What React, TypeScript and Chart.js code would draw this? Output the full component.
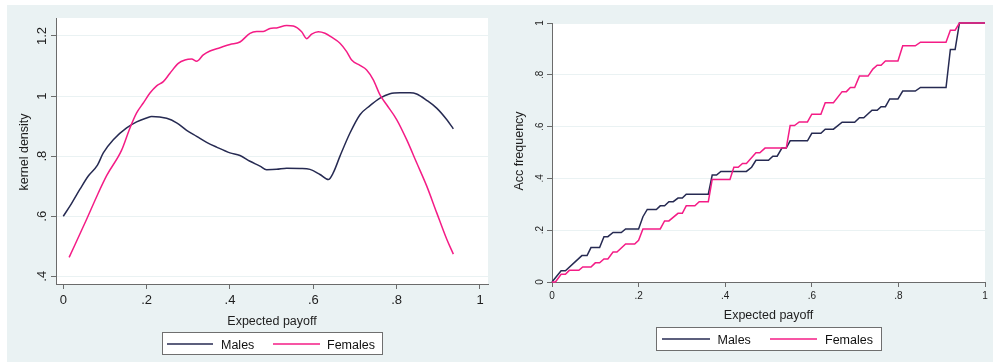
import React, { useEffect, useRef } from 'react';
import { Chart, registerables } from 'chart.js';

Chart.register(...registerables);

// ---------------- data ----------------
const seriesNames = ['Males', 'Females'];

// Left panel: kernel density of expected payoff
const densityMalesX = [0, 0.02, 0.04, 0.06, 0.082, 0.096, 0.12, 0.152, 0.176, 0.2, 0.212, 0.248, 0.272, 0.296, 0.32, 0.344, 0.368, 0.4, 0.424, 0.448, 0.472, 0.488, 0.512, 0.536, 0.568, 0.592, 0.616, 0.636, 0.648, 0.664, 0.688, 0.712, 0.736, 0.76, 0.784, 0.808, 0.832, 0.848, 0.872, 0.896, 0.92, 0.936];
const densityMalesY = [0.6, 0.643, 0.69, 0.734, 0.77, 0.811, 0.855, 0.894, 0.914, 0.927, 0.932, 0.926, 0.911, 0.886, 0.866, 0.846, 0.83, 0.811, 0.802, 0.783, 0.767, 0.755, 0.756, 0.76, 0.759, 0.756, 0.739, 0.722, 0.745, 0.8, 0.877, 0.938, 0.968, 0.993, 1.008, 1.011, 1.011, 1.007, 0.986, 0.96, 0.922, 0.891];

const densityFemalesX = [0.014, 0.056, 0.08, 0.104, 0.14, 0.16, 0.176, 0.192, 0.208, 0.224, 0.24, 0.256, 0.276, 0.292, 0.308, 0.32, 0.336, 0.352, 0.376, 0.4, 0.424, 0.448, 0.464, 0.48, 0.496, 0.512, 0.536, 0.552, 0.572, 0.584, 0.596, 0.612, 0.628, 0.644, 0.664, 0.68, 0.692, 0.712, 0.728, 0.744, 0.76, 0.776, 0.8, 0.824, 0.848, 0.872, 0.896, 0.92, 0.936];
const densityFemalesY = [0.463, 0.59, 0.665, 0.735, 0.82, 0.894, 0.944, 0.977, 1.01, 1.034, 1.048, 1.076, 1.109, 1.12, 1.123, 1.116, 1.137, 1.15, 1.161, 1.172, 1.18, 1.209, 1.215, 1.215, 1.225, 1.227, 1.235, 1.233, 1.214, 1.191, 1.206, 1.214, 1.209, 1.196, 1.176, 1.148, 1.12, 1.102, 1.087, 1.054, 1.004, 0.971, 0.922, 0.855, 0.778, 0.701, 0.612, 0.524, 0.474];

// Right panel: accumulated frequency
const cdfMalesX = [0, 0.021, 0.031, 0.069, 0.081, 0.09, 0.11, 0.12, 0.129, 0.141, 0.16, 0.17, 0.2, 0.21, 0.22, 0.241, 0.25, 0.26, 0.27, 0.28, 0.291, 0.301, 0.31, 0.361, 0.37, 0.38, 0.39, 0.449, 0.461, 0.471, 0.5, 0.51, 0.52, 0.531, 0.541, 0.55, 0.59, 0.6, 0.621, 0.631, 0.65, 0.67, 0.699, 0.71, 0.72, 0.739, 0.751, 0.76, 0.77, 0.78, 0.799, 0.81, 0.839, 0.851, 0.91, 0.92, 0.931, 0.941, 1.0];
const cdfMalesY = [0, 0.043, 0.043, 0.102, 0.102, 0.133, 0.133, 0.175, 0.175, 0.191, 0.191, 0.205, 0.205, 0.252, 0.28, 0.28, 0.294, 0.294, 0.31, 0.31, 0.324, 0.324, 0.339, 0.339, 0.413, 0.413, 0.427, 0.427, 0.443, 0.47, 0.47, 0.486, 0.486, 0.517, 0.517, 0.545, 0.545, 0.574, 0.574, 0.59, 0.59, 0.617, 0.617, 0.634, 0.634, 0.663, 0.663, 0.677, 0.677, 0.707, 0.707, 0.737, 0.737, 0.751, 0.751, 0.898, 0.898, 1.0, 1.0];

const cdfFemalesX = [0, 0.008, 0.021, 0.031, 0.04, 0.062, 0.071, 0.09, 0.1, 0.11, 0.12, 0.129, 0.141, 0.15, 0.17, 0.191, 0.2, 0.21, 0.25, 0.26, 0.27, 0.291, 0.301, 0.31, 0.33, 0.34, 0.361, 0.37, 0.411, 0.42, 0.43, 0.44, 0.449, 0.471, 0.48, 0.492, 0.541, 0.55, 0.56, 0.571, 0.59, 0.6, 0.621, 0.631, 0.65, 0.67, 0.68, 0.689, 0.699, 0.71, 0.73, 0.741, 0.751, 0.76, 0.77, 0.799, 0.81, 0.839, 0.851, 0.91, 0.92, 0.931, 0.941, 1.0];
const cdfFemalesY = [0, 0, 0.03, 0.03, 0.045, 0.045, 0.058, 0.058, 0.074, 0.074, 0.089, 0.089, 0.116, 0.116, 0.147, 0.147, 0.161, 0.205, 0.205, 0.236, 0.236, 0.265, 0.265, 0.294, 0.294, 0.31, 0.31, 0.396, 0.396, 0.443, 0.443, 0.458, 0.458, 0.499, 0.499, 0.517, 0.517, 0.604, 0.604, 0.618, 0.618, 0.648, 0.648, 0.692, 0.692, 0.735, 0.735, 0.751, 0.751, 0.795, 0.795, 0.822, 0.837, 0.837, 0.853, 0.853, 0.912, 0.912, 0.926, 0.926, 0.972, 0.972, 1.0, 1.0];

// ticks
const xTicks = [0, 0.2, 0.4, 0.6, 0.8, 1];
const xTickLabels = ['0', '.2', '.4', '.6', '.8', '1'];
const densityYTicks = [0.4, 0.6, 0.8, 1, 1.2];
const densityYTickLabels = ['.4', '.6', '.8', '1', '1.2'];
const cdfYTicks = [0, 0.2, 0.4, 0.6, 0.8, 1];
const cdfYTickLabels = ['0', '.2', '.4', '.6', '.8', '1'];

const xTitle = 'Expected payoff';
const densityYTitle = 'kernel density';
const cdfYTitle = 'Acc frequency';

// ---------------- styles ----------------
const FONT = '"Liberation Sans", Arial, Helvetica, sans-serif';
const MALE_COLOR = '#262a52';
const FEMALE_COLOR = '#f41c86';
const BG = '#eaf2f3';
const AXIS = '#6b6b6b';
const TEXT = '#1e1e1e';

const zip = (xs: number[], ys: number[]) => xs.map((x, i) => ({ x, y: ys[i] }));

type PanelCfg = {
  left: number;
  width: number;
  height: number;
  padding: { left: number; right: number; top: number; bottom: number };
  xMin: number; xMax: number; yMin: number; yMax: number;
  yTicks: number[]; yTickLabels: string[];
  tickFont: number;
  xLabelBaseline: number; // offset below axis
  yLabelBaseline: number; // offset left of axis
  yTitle: string;
  xTitleBaseline: number;
  yTitleBaselineX: number;
  yTitleCenterY: number;
  legend: { x: number; y: number; w: number; h: number; lineY: number; textY: number; items: { x1: number; x2: number; tx: number }[] };
  males: { x: number; y: number }[];
  females: { x: number; y: number }[];
  smooth: boolean;
};

function makeDecor(cfg: PanelCfg) {
  return {
    id: 'stataDecor',
    beforeDraw(chart: any) {
      const { ctx, chartArea: a } = chart;
      ctx.save();
      ctx.fillStyle = '#ffffff';
      ctx.fillRect(a.left, a.top, a.right - a.left, a.bottom - a.top);
      ctx.restore();
    },
    afterDraw(chart: any) {
      const { ctx, chartArea: a } = chart;
      const xs = chart.scales.x;
      const ys = chart.scales.y;
      ctx.save();
      ctx.fillStyle = TEXT;
      ctx.textBaseline = 'alphabetic';
      // x tick labels
      ctx.font = `${cfg.tickFont}px ${FONT}`;
      ctx.textAlign = 'center';
      xTicks.forEach((v, i) => {
        ctx.fillText(xTickLabels[i], xs.getPixelForValue(v), a.bottom + cfg.xLabelBaseline);
      });
      // y tick labels (rotated)
      cfg.yTicks.forEach((v, i) => {
        ctx.save();
        ctx.translate(a.left - cfg.yLabelBaseline, ys.getPixelForValue(v));
        ctx.rotate(-Math.PI / 2);
        ctx.textAlign = 'center';
        ctx.fillText(cfg.yTickLabels[i], 0, 0);
        ctx.restore();
      });
      // axis titles
      ctx.font = `12.5px ${FONT}`;
      ctx.textAlign = 'center';
      ctx.fillText(xTitle, (a.left + a.right) / 2, cfg.xTitleBaseline);
      ctx.save();
      ctx.translate(cfg.yTitleBaselineX, cfg.yTitleCenterY);
      ctx.rotate(-Math.PI / 2);
      ctx.fillText(cfg.yTitle, 0, 0);
      ctx.restore();
      // legend
      const L = cfg.legend;
      ctx.fillStyle = '#ffffff';
      ctx.fillRect(L.x, L.y, L.w, L.h);
      ctx.strokeStyle = '#6f6f6f';
      ctx.lineWidth = 1;
      ctx.strokeRect(L.x + 0.5, L.y + 0.5, L.w, L.h);
      chart.data.datasets.forEach((ds: any, i: number) => {
        const it = L.items[i];
        ctx.strokeStyle = ds.borderColor;
        ctx.lineWidth = 1.5;
        ctx.beginPath();
        ctx.moveTo(it.x1, L.lineY);
        ctx.lineTo(it.x2, L.lineY);
        ctx.stroke();
        ctx.fillStyle = '#111111';
        ctx.textAlign = 'left';
        ctx.font = `12.5px ${FONT}`;
        ctx.fillText(ds.label, it.tx, L.textY);
      });
      ctx.restore();
    },
  };
}

function Panel({ cfg }: { cfg: PanelCfg }) {
  const ref = useRef<HTMLCanvasElement>(null);
  useEffect(() => {
    if (!ref.current) return;
    const lineOpts = {
      pointRadius: 0,
      borderWidth: 1.5,
      fill: false,
      clip: false as any,
      tension: cfg.smooth ? 0.4 : 0,
      cubicInterpolationMode: cfg.smooth ? ('monotone' as const) : ('default' as const),
    };
    const chart = new Chart(ref.current, {
      type: 'line',
      data: {
        datasets: [
          { label: seriesNames[0], data: cfg.males, borderColor: MALE_COLOR, backgroundColor: MALE_COLOR, order: 1, ...lineOpts },
          { label: seriesNames[1], data: cfg.females, borderColor: FEMALE_COLOR, backgroundColor: FEMALE_COLOR, order: 0, ...lineOpts },
        ],
      },
      options: {
        animation: false,
        responsive: false,
        devicePixelRatio: 1,
        layout: { padding: cfg.padding },
        plugins: { legend: { display: false }, tooltip: { enabled: false }, title: { display: false } },
        scales: {
          x: {
            type: 'linear',
            min: cfg.xMin,
            max: cfg.xMax,
            afterBuildTicks: (s: any) => { s.ticks = xTicks.map((v) => ({ value: v })); },
            afterFit: (s: any) => { s.height = 0; },
            ticks: { display: false },
            grid: { drawOnChartArea: false, drawTicks: true, tickLength: 5, tickColor: AXIS, tickWidth: 1 },
            border: { display: true, color: AXIS, width: 1 },
          },
          y: {
            type: 'linear',
            min: cfg.yMin,
            max: cfg.yMax,
            afterBuildTicks: (s: any) => { s.ticks = cfg.yTicks.map((v) => ({ value: v })); },
            afterFit: (s: any) => { s.width = 0; },
            ticks: { display: false },
            grid: { color: BG, lineWidth: 1, drawTicks: true, tickLength: 5, tickColor: AXIS, tickWidth: 1 },
            border: { display: true, color: AXIS, width: 1 },
          },
        },
      } as any,
      plugins: [makeDecor(cfg)],
    });
    return () => chart.destroy();
  }, [cfg]);
  return (
    <canvas
      ref={ref}
      width={cfg.width}
      height={cfg.height}
      style={{ position: 'absolute', left: cfg.left, top: 0, width: cfg.width, height: cfg.height }}
    />
  );
}

const densityCfg: PanelCfg = {
  left: 0,
  width: 493,
  height: 362,
  padding: { left: 56, right: 5, top: 18, bottom: 78 },
  xMin: -0.0175, xMax: 1.0192, yMin: 0.3744, yMax: 1.2599,
  yTicks: densityYTicks, yTickLabels: densityYTickLabels,
  tickFont: 13,
  xLabelBaseline: 20,
  yLabelBaseline: 10,
  yTitle: densityYTitle,
  xTitleBaseline: 325,
  yTitleBaselineX: 27.5,
  yTitleCenterY: 152,
  legend: {
    x: 162, y: 332, w: 220, h: 22, lineY: 344, textY: 348.5,
    items: [{ x1: 167, x2: 213, tx: 221 }, { x1: 273, x2: 320, tx: 327 }],
  },
  males: zip(densityMalesX, densityMalesY),
  females: zip(densityFemalesX, densityFemalesY),
  smooth: true,
};

const cdfCfg: PanelCfg = {
  left: 493,
  width: 500,
  height: 362,
  padding: { left: 59, right: 8, top: 23, bottom: 80 },
  xMin: 0, xMax: 1, yMin: 0, yMax: 1,
  yTicks: cdfYTicks, yTickLabels: cdfYTickLabels,
  tickFont: 10,
  xLabelBaseline: 17,
  yLabelBaseline: 9,
  yTitle: cdfYTitle,
  xTitleBaseline: 319,
  yTitleBaselineX: 29.5,
  yTitleCenterY: 151,
  legend: {
    x: 163, y: 327, w: 225, h: 23, lineY: 339, textY: 344,
    items: [{ x1: 169, x2: 217, tx: 224.5 }, { x1: 277, x2: 324, tx: 332 }],
  },
  males: zip(cdfMalesX, cdfMalesY),
  females: zip(cdfFemalesX, cdfFemalesY),
  smooth: false,
};

export default function App() {
  return (
    <div style={{ position: 'absolute', left: 0, top: 0, width: 993, height: 362, background: '#ffffff', overflow: 'hidden' }}>
      <div style={{ position: 'absolute', left: 7, top: 5, width: 986, height: 357, background: BG }} />
      <Panel cfg={densityCfg} />
      <Panel cfg={cdfCfg} />
    </div>
  );
}
